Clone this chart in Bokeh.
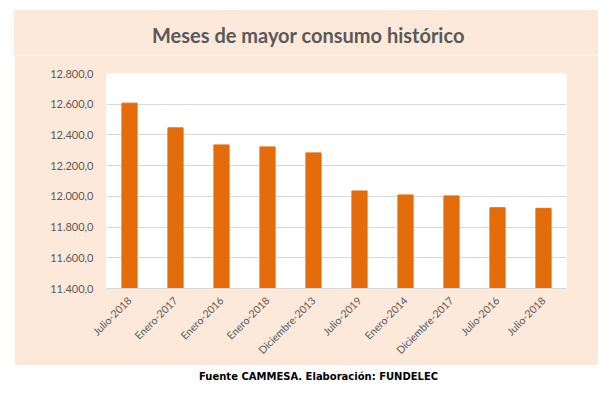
import math
from bokeh.plotting import figure
from bokeh.models import ColumnDataSource, FixedTicker, Div
from bokeh.layouts import column
from bokeh.embed import file_html
from bokeh.resources import INLINE

chart_title = "Meses de mayor consumo histórico"
source_note = "Fuente CAMMESA. Elaboración: FUNDELEC"
months = ["Julio-2018", "Enero-2017", "Enero-2016", "Enero-2018", "Diciembre-2013",
          "Julio-2019", "Enero-2014", "Diciembre-2017", "Julio-2016", "Julio-2018"]
consumo = [12607, 12446, 12335, 12322, 12283, 12035, 12009, 12003, 11926, 11922]
y_ticks = [11400, 11600, 11800, 12000, 12200, 12400, 12600, 12800]
y_tick_labels = ["11.400,0", "11.600,0", "11.800,0", "12.000,0", "12.200,0",
                 "12.400,0", "12.600,0", "12.800,0"]

PEACH = "#FDE9D9"
GRAY = "#595959"
ORANGE = "#E46C0A"

idx = list(range(len(months)))
src = ColumnDataSource(data=dict(x=idx, y=consumo))

header = Div(text=chart_title, width=584, height=45, margin=(10, 0, 0, 14),
             styles={"background-color": PEACH, "font-family": "Lato",
                     "font-size": "20px", "font-weight": "bold", "color": GRAY,
                     "text-align": "left", "text-indent": "138px",
                     "line-height": "50px", "white-space": "nowrap",
                     "overflow": "visible"})

p = figure(width=584, height=310, output_backend="svg", toolbar_location=None,
           title_location=None, margin=(0, 0, 0, 14),
           x_range=(-0.5, len(months) - 0.5), y_range=(y_ticks[0], y_ticks[-1]),
           min_border_left=92, min_border_right=32, min_border_top=18, min_border_bottom=77,
           border_fill_color=PEACH, background_fill_color="white",
           outline_line_color=None)

p.vbar(x="x", top="y", bottom=y_ticks[0], width=0.33, source=src,
       fill_color=ORANGE, line_color=ORANGE)

p.yaxis.ticker = FixedTicker(ticks=y_ticks)
p.yaxis.major_label_overrides = {v: l for v, l in zip(y_ticks, y_tick_labels)}
p.yaxis.axis_line_color = None
p.yaxis.major_tick_line_color = None
p.yaxis.minor_tick_line_color = None
p.yaxis.major_tick_out = 0
p.yaxis.major_label_text_font = "Lato"
p.yaxis.major_label_text_font_size = "11px"
p.yaxis.major_label_text_color = GRAY
p.yaxis.major_label_standoff = 13

p.xaxis.ticker = FixedTicker(ticks=idx)
p.xaxis.major_label_overrides = {i: m for i, m in zip(idx, months)}
p.xaxis.major_label_orientation = math.pi / 4
p.xaxis.axis_line_color = "#D9D9D9"
p.xaxis.major_tick_line_color = None
p.xaxis.minor_tick_line_color = None
p.xaxis.major_tick_out = 0
p.xaxis.major_label_text_font = "Lato"
p.xaxis.major_label_text_font_size = "10.5px"
p.xaxis.major_label_text_color = GRAY
p.xaxis.major_label_standoff = 10

p.xgrid.grid_line_color = None
p.ygrid.grid_line_color = "#D9D9D9"
p.ygrid.ticker = FixedTicker(ticks=y_ticks)

footer = Div(text=source_note, width=598, height=24, margin=0,
             styles={"text-align": "left", "font-family": "DejaVu Sans",
                     "font-size": "10px", "font-weight": "bold", "color": "#000000",
                     "text-indent": "199px", "line-height": "24px",
                     "white-space": "nowrap"})

layout = column(header, p, footer, spacing=0)
open("out.html", "w").write(file_html(layout, INLINE))
